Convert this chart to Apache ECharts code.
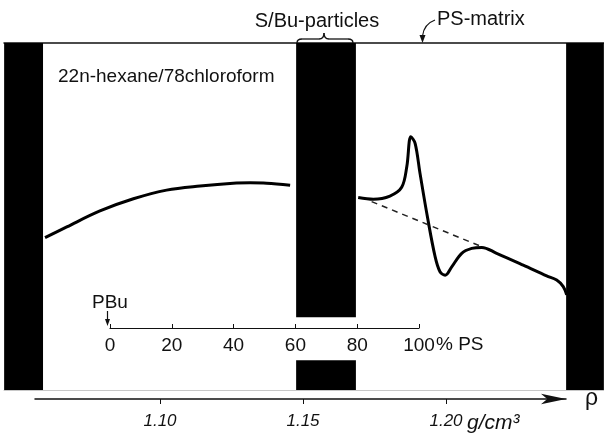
<!DOCTYPE html>
<html>
<head>
<meta charset="utf-8">
<script src="https://cdn.jsdelivr.net/npm/echarts@6/dist/echarts.min.js"></script>
<style>
  html, body { margin: 0; padding: 0; background: #fff; }
  #chart { width: 604px; height: 437px; }
</style>
</head>
<body>
<div id="chart"></div>
<script>
// density (g/cm3) vs. signal
const leftRho = [1.0598, 1.0674, 1.0790, 1.0907, 1.1023, 1.1140, 1.1256, 1.1315, 1.1373, 1.1455];
const leftSignal = [43.9, 47.0, 51.6, 55.1, 57.6, 58.8, 59.6, 59.7, 59.6, 59.0];

const rightRho = [1.1693, 1.1746, 1.1804, 1.1845, 1.1863, 1.1877, 1.1892, 1.1909, 1.1935, 1.1962,
  1.1979, 1.1997, 1.2020, 1.2055, 1.2090, 1.2125, 1.2177, 1.2270, 1.2352, 1.2387, 1.2410, 1.2422];
const rightSignal = [55.5, 55.0, 55.9, 58.4, 64.4, 73.0, 71.1, 62.5, 49.9, 38.4,
  34.1, 33.1, 35.5, 39.4, 40.8, 41.1, 39.4, 36.0, 32.9, 31.7, 29.8, 27.4];

const baseRho = [1.1740, 1.2125];
const baseSignal = [54.3, 41.3];

// black zones: pure PBu / S/Bu-particles / PS-matrix
const bandRho = [[1.0455, 1.0591], [1.1476, 1.1685], [1.2420, 1.2552]];
const middleGap = [8.6, 21.0]; // break in the particle band around the % PS scale

const rhoTicks = [1.10, 1.15, 1.20];
const psTicks = [0, 20, 40, 60, 80, 100];

// pixel scale of the density axis
const PX0 = 160, RHO0 = 1.10, PX_PER_RHO = 2860;
const rhoAt = px => RHO0 + (px - PX0) / PX_PER_RHO;

const font = "'Liberation Sans', Arial, sans-serif";
const zip = (xs, ys) => xs.map((x, i) => [x, ys[i]]);

const bands = [
  [{ xAxis: bandRho[0][0], yAxis: 0 }, { xAxis: bandRho[0][1], yAxis: 100 }],
  [{ xAxis: bandRho[1][0], yAxis: middleGap[1] }, { xAxis: bandRho[1][1], yAxis: 100 }],
  [{ xAxis: bandRho[1][0], yAxis: 0 }, { xAxis: bandRho[1][1], yAxis: middleGap[0] }],
  [{ xAxis: bandRho[2][0], yAxis: 0 }, { xAxis: bandRho[2][1], yAxis: 100 }]
];

const chart = echarts.init(document.getElementById("chart"));

const option = {
  animation: false,
  grid: [
    { left: 4, right: 0, top: 43, bottom: 47 },
    { left: 35, right: 38, top: 380, bottom: 38 },
    { left: 110, right: 185, top: 300, bottom: 109 }
  ],
  xAxis: [
    {
      gridIndex: 0, type: "value", position: "bottom",
      min: rhoAt(4), max: rhoAt(604),
      axisLine: { lineStyle: { color: "#c8c8c8", width: 1 } },
      axisTick: { show: false }, axisLabel: { show: false }, splitLine: { show: false }
    },
    {
      gridIndex: 0, type: "value", position: "top",
      min: rhoAt(4), max: rhoAt(604),
      axisLine: { lineStyle: { color: "#111", width: 1.5 } },
      axisTick: { show: false }, axisLabel: { show: false }, splitLine: { show: false }
    },
    {
      gridIndex: 1, type: "value", position: "bottom",
      min: rhoAt(35), max: rhoAt(566),
      name: "ρ", nameLocation: "end", nameGap: 19,
      nameTextStyle: { fontFamily: font, fontSize: 23, color: "#111", padding: [16, 0, 0, 0] },
      axisLine: {
        lineStyle: { color: "#111", width: 1.5 },
        symbol: ["none", "arrow"], symbolSize: [8, 25]
      },
      axisTick: { customValues: rhoTicks, length: 5, lineStyle: { color: "#111" } },
      axisLabel: {
        customValues: rhoTicks, margin: 14,
        formatter: v => v.toFixed(2),
        fontFamily: font, fontStyle: "italic", fontSize: 17, color: "#111"
      },
      splitLine: { show: false }
    },
    {
      gridIndex: 2, type: "value", position: "bottom",
      min: 0, max: 100, interval: 20,
      axisLine: { lineStyle: { color: "#111", width: 1.2 } },
      axisTick: { inside: true, length: 4, lineStyle: { color: "#111" } },
      axisLabel: {
        margin: 8, fontFamily: font, fontSize: 19, color: "#111",
        formatter: v => psTicks.includes(v) ? String(v) : ""
      },
      splitLine: { show: false }
    }
  ],
  yAxis: [
    { gridIndex: 0, type: "value", min: 0, max: 100, show: false },
    { gridIndex: 1, type: "value", min: 0, max: 1, show: false },
    { gridIndex: 2, type: "value", min: 0, max: 1, show: false }
  ],
  series: [
    {
      name: "bands", type: "line", xAxisIndex: 0, yAxisIndex: 0, data: [],
      markArea: { silent: true, itemStyle: { color: "#000", opacity: 1 }, data: bands }
    },
    {
      name: "left", type: "line", xAxisIndex: 0, yAxisIndex: 0,
      data: zip(leftRho, leftSignal), smooth: 0.35, showSymbol: false,
      lineStyle: { color: "#000", width: 3 }
    },
    {
      name: "right", type: "line", xAxisIndex: 0, yAxisIndex: 0,
      data: zip(rightRho, rightSignal), smooth: 0.35, showSymbol: false,
      lineStyle: { color: "#000", width: 3 }
    },
    {
      name: "baseline", type: "line", xAxisIndex: 0, yAxisIndex: 0,
      data: zip(baseRho, baseSignal), showSymbol: false,
      lineStyle: { color: "#222", width: 1.5, type: [6, 5] }
    }
  ],
  graphic: [
    { type: "text", x: 58, y: 77, style: { text: "22n-hexane/78chloroform", fontFamily: font, fontSize: 19, fill: "#111", textVerticalAlign: "middle" } },
    { type: "text", x: 317, y: 21, style: { text: "S/Bu-particles", fontFamily: font, fontSize: 20, fill: "#111", textAlign: "center", textVerticalAlign: "middle" } },
    { type: "text", x: 437, y: 19, style: { text: "PS-matrix", fontFamily: font, fontSize: 20, fill: "#111", textVerticalAlign: "middle" } },
    // brace over the particle band
    { type: "bezierCurve", shape: { x1: 297, y1: 43, x2: 302, y2: 39, cpx1: 297, cpy1: 39 }, style: { stroke: "#111", lineWidth: 1.3, fill: "none" } },
    { type: "line", shape: { x1: 302, y1: 39, x2: 319, y2: 39 }, style: { stroke: "#111", lineWidth: 1.3 } },
    { type: "bezierCurve", shape: { x1: 319, y1: 39, x2: 324, y2: 33, cpx1: 324, cpy1: 39 }, style: { stroke: "#111", lineWidth: 1.3, fill: "none" } },
    { type: "bezierCurve", shape: { x1: 324, y1: 33, x2: 329, y2: 39, cpx1: 324, cpy1: 39 }, style: { stroke: "#111", lineWidth: 1.3, fill: "none" } },
    { type: "line", shape: { x1: 329, y1: 39, x2: 348, y2: 39 }, style: { stroke: "#111", lineWidth: 1.3 } },
    { type: "bezierCurve", shape: { x1: 348, y1: 39, x2: 353, y2: 43, cpx1: 353, cpy1: 39 }, style: { stroke: "#111", lineWidth: 1.3, fill: "none" } },
    // PS-matrix pointer
    { type: "bezierCurve", shape: { x1: 435, y1: 20, x2: 422.5, y2: 36, cpx1: 424, cpy1: 24 }, style: { stroke: "#111", lineWidth: 1.2, fill: "none" } },
    { type: "polygon", shape: { points: [[419.5, 35], [425.5, 35], [422.5, 43]] }, style: { fill: "#111" } },
    // PBu pointer
    { type: "text", x: 92, y: 303, style: { text: "PBu", fontFamily: font, fontSize: 19, fill: "#111", textVerticalAlign: "middle" } },
    { type: "line", shape: { x1: 107.5, y1: 311, x2: 107.5, y2: 320 }, style: { stroke: "#111", lineWidth: 1.2 } },
    { type: "polygon", shape: { points: [[105, 319], [110, 319], [107.5, 326]] }, style: { fill: "#111" } },
    { type: "text", x: 436, y: 345, style: { text: "% PS", fontFamily: font, fontSize: 19, fill: "#111", textVerticalAlign: "middle" } },
    { type: "text", x: 467, y: 423, style: { text: "g/cm³", fontFamily: font, fontStyle: "italic", fontSize: 21, fill: "#111", textVerticalAlign: "middle" } }
  ]
};

chart.setOption(option);
</script>
</body>
</html>
